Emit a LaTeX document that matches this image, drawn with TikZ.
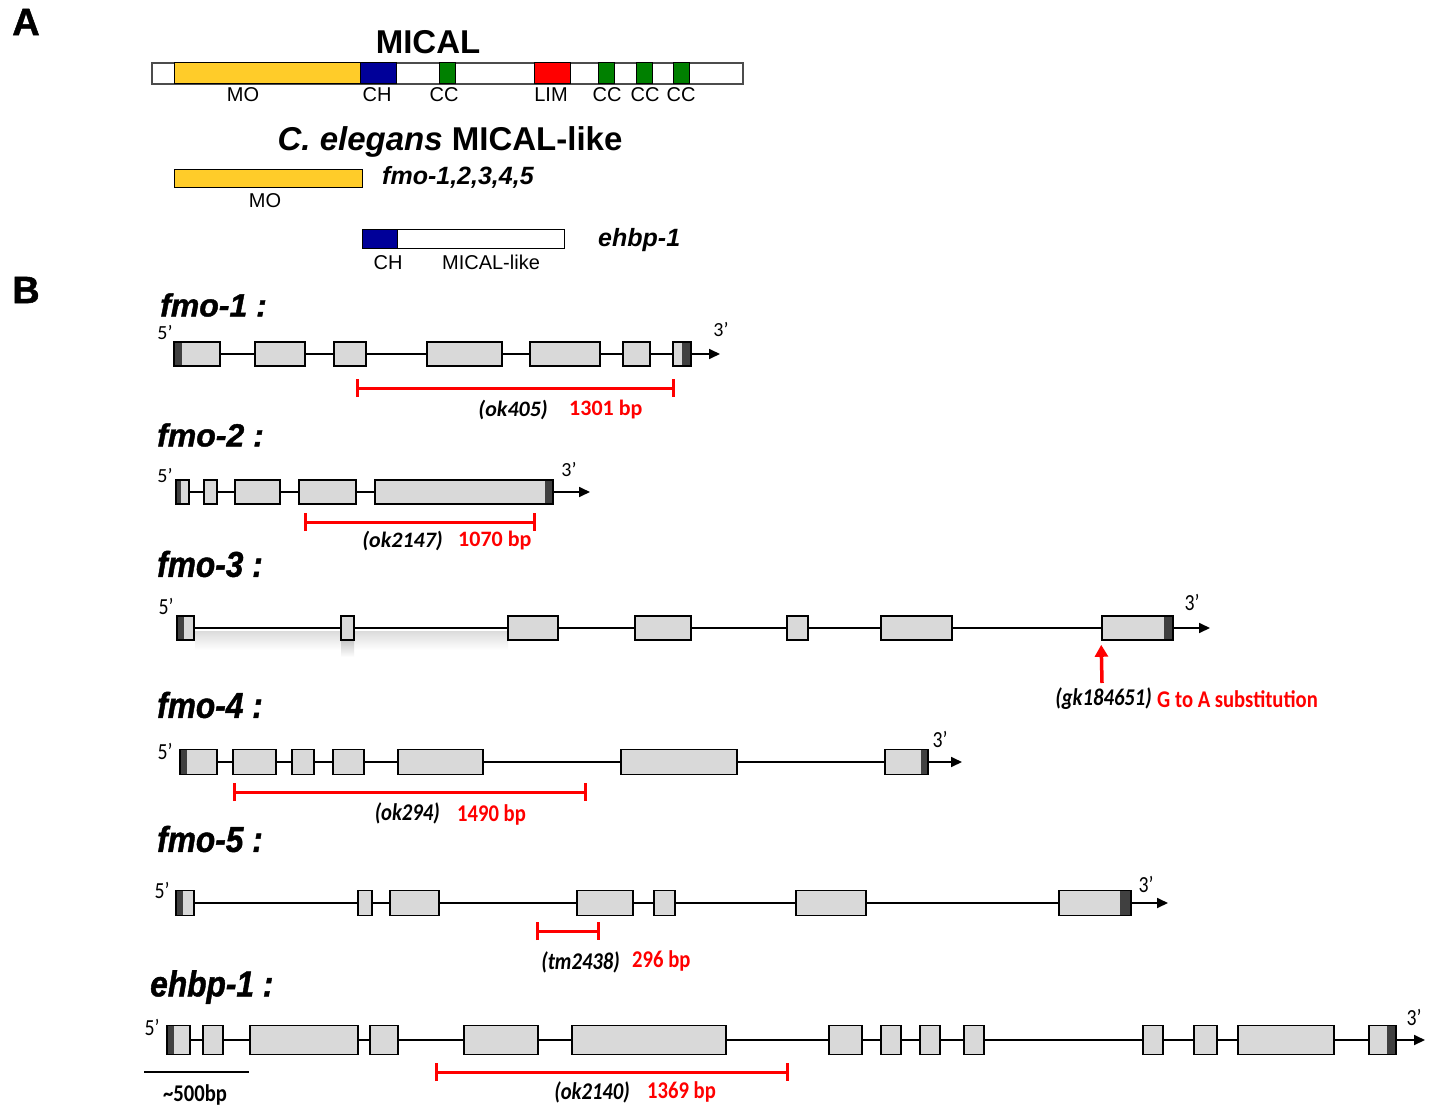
\documentclass[tikz,border=0pt]{standalone}
\usepackage{fontspec}
\setmainfont{Liberation Sans}
\newfontfamily\cfont{Carlito}
\newfontfamily\cfontc[FakeStretch=0.86]{Carlito}
\newfontfamily\heavyfont[FakeBold=1.2]{Liberation Sans}
\newfontfamily\heavyfontc[FakeStretch=0.88,FakeBold=1.2]{Liberation Sans}
\usetikzlibrary{arrows.meta}

\newcommand\fsz[1]{\fontsize{#1}{#1}\selectfont}

\definecolor{moyellow}{HTML}{FFCC29}
\definecolor{chblue}{HTML}{000099}
\definecolor{ccgreen}{HTML}{008000}
\definecolor{limred}{HTML}{FF0000}
\definecolor{exongray}{HTML}{D9D9D9}
\definecolor{utrgray}{HTML}{404040}

\tikzset{
  panel/.style={font=\heavyfont\bfseries\fsz{38}, inner sep=0pt},
  bigtitle/.style={font=\bfseries\fsz{33}, inner sep=0pt},
  subtitle/.style={font=\bfseries\fsz{33}, inner sep=0pt},
  domlab/.style={font=\fsz{20}, inner sep=0pt},
  protlab/.style={font=\bfseries\itshape\fsz{25}, inner sep=0pt, anchor=west},
  dom/.style={draw=black, line width=1pt, inner sep=0pt, minimum height=21pt},
  genetitle/.style={font=\heavyfont\bfseries\itshape\fsz{32}, anchor=west, inner sep=0pt},
  genetitlec/.style={font=\heavyfontc\bfseries\itshape\fsz{36}, anchor=west, inner sep=0pt},
  primelab/.style={font=\cfont\fsz{20}, inner sep=0pt},
  primelabc/.style={font=\cfontc\fsz{23}, inner sep=0pt},
  allele/.style={font=\cfont\bfseries\itshape\fsz{22}, anchor=east, inner sep=0pt},
  allelec/.style={font=\cfontc\bfseries\itshape\fsz{24}, anchor=east, inner sep=0pt},
  dsize/.style={font=\cfont\bfseries\fsz{22}, text=limred, anchor=west, inner sep=0pt},
  dsizec/.style={font=\cfontc\bfseries\fsz{24}, text=limred, anchor=west, inner sep=0pt},
  exon/.style={draw=black, line width=1.6pt, fill=exongray, inner sep=0pt},
  utr/.style 2 args={path picture={
      \fill[utrgray] (path picture bounding box.south west)
        rectangle ([xshift=#1 pt]path picture bounding box.north west);
      \fill[utrgray] ([xshift=-#2 pt]path picture bounding box.south east)
        rectangle (path picture bounding box.north east);}},
  intron/.style={draw=black, line width=1.7pt},
  endtip/.style={-{Triangle[length=11pt,width=10pt]}},
  del/.style={draw=limred, line width=3pt, {Bar[width=18pt]}-{Bar[width=18pt]}},
}

% gene model: #1 name, #2 y of the axis, #3 exon height,
% #4 x of the 3' arrow tip, #5 exons as start/end/left UTR/right UTR
\newcommand\genemodel[5]{%
  \foreach \a/\b/\l/\r [count=\k] in {#5}{
    \node[exon, minimum height=#3 pt, minimum width={(\b-\a)*1pt}, utr={\l}{\r}]
      (#1-\k) at ({(\a+\b)/2},#2) {};
    \xdef\lastexon{\k}
  }
  \foreach \k in {2,...,\lastexon}{
    \pgfmathtruncatemacro\p{\k-1}
    \draw[intron] (#1-\p.east) -- (#1-\k.west);
  }
  \coordinate (#1-tip) at (#4,#2);
  \draw[intron, endtip] (#1-\lastexon.east) -- (#1-tip);
}

\begin{document}
\begin{tikzpicture}[x=1pt, y=-1pt]
\useasboundingbox (0,0) rectangle (1434,1107);
\fill[white] (0,0) rectangle (1434,1107);

% ---------------- Panel A: domain architecture ----------------
\node[panel] (pa) at (26,22) {A};
\node[bigtitle] (mtitle) at (428,42) {MICAL};

\node[draw=black!70, line width=1.2pt, fill=white, inner sep=0pt,
      minimum width=591pt, minimum height=21pt] (mical) at (447.5,73.5) {};
\node[dom, fill=moyellow, minimum width=186pt] (mo)   at (267,73.5) {};
\node[dom, fill=chblue,   minimum width=36pt]  (ch)   at (378,73.5) {};
\node[dom, fill=ccgreen,  minimum width=16pt]  (cc1)  at (447,73.5) {};
\node[dom, fill=limred,   minimum width=36pt]  (lim)  at (552,73.5) {};
\node[dom, fill=ccgreen,  minimum width=16pt]  (cc2)  at (606,73.5) {};
\node[dom, fill=ccgreen,  minimum width=16pt]  (cc3)  at (644,73.5) {};
\node[dom, fill=ccgreen,  minimum width=16pt]  (cc4)  at (681,73.5) {};

\node[domlab] (lmo)  at (243,95) {MO};
\node[domlab] (lch)  at (377,95) {CH};
\node[domlab] (lcc1) at (444,95) {CC};
\node[domlab] (llim) at (551,95) {LIM};
\node[domlab] (lcc2) at (607,95) {CC};
\node[domlab] (lcc3) at (645,95) {CC};
\node[domlab] (lcc4) at (681,95) {CC};

\node[subtitle] (ctitle) at (450,142) {\textit{C. elegans} MICAL-like};

\node[dom, fill=moyellow, minimum width=188pt, minimum height=18pt] (fmobar) at (268,178.5) {};
\node[protlab] (fmolab) at (382,177) {fmo-1,2,3,4,5};
\node[domlab] (fmomo) at (265,201) {MO};

\node[dom, fill=white, minimum width=202pt, minimum height=19pt] (ehbar) at (463,239.5) {};
\node[dom, fill=chblue, minimum width=35pt, minimum height=19pt] (ehch) at (379.5,239.5) {};
\node[protlab] (ehlab) at (598,240) {ehbp-1};
\node[domlab] (ehchl) at (388,263) {CH};
\node[domlab] (ehml) at (491,262) {MICAL-like};

% ---------------- Panel B: gene models ----------------
\node[panel] (pb) at (26,290) {B};

% fmo-1
\node[genetitle] (t1) at (160,305) {fmo-1 :};
\node[primelab] (f1-5l) at (165,333) {5’};
\node[primelab] (f1-3l) at (721,330) {3’};
\genemodel{f1}{354}{24}{720}{174/220/8/0, 255/305/0/0, 334/366/0/0, 427/502/0/0,
  530/600/0/0, 623/650/0/0, 673/691/0/9}
\coordinate (d1a) at (356,388);
\coordinate (d1b) at (675,388);
\draw[del] (d1a) -- (d1b);
\node[allele] (a1) at (548,410) {(ok405)};
\node[dsize] (s1) at (569,410) {1301 bp};

% fmo-2
\node[genetitle] (t2) at (157,435) {fmo-2 :};
\node[primelab] (f2-5l) at (165,476) {5’};
\node[primelab] (f2-3l) at (569,470) {3’};
\genemodel{f2}{492}{24}{590}{176/189/5/0, 204/217/0/0, 235/280/0/0, 299/356/0/0, 375/553/0/8}
\coordinate (d2a) at (304,522);
\coordinate (d2b) at (536,522);
\draw[del] (d2a) -- (d2b);
\node[allele] (a2) at (443,541) {(ok2147)};
\node[dsize] (s2) at (458,541) {1070 bp};

% fmo-3
\node[genetitlec] (t3) at (157,564) {fmo-3 :};
\node[primelabc] (f3-5l) at (166,606) {5’};
\node[primelabc] (f3-3l) at (1192,602) {3’};
\shade[top color=black!14, bottom color=white] (195,631) rectangle (508,650);
\shade[top color=black!22, bottom color=white] (341,640) rectangle (354,657);
\genemodel{f3}{628}{24}{1210}{177/194/7/0, 341/354/0/0, 508/558/0/0, 635/691/0/0,
  787/808/0/0, 881/952/0/0, 1102/1173/0/9}
\coordinate (snp) at (1102,683);
\draw[draw=limred, line width=3.5pt, -{Triangle[length=12pt,width=13pt]}]
  (snp) -- ([yshift=-4pt]f3-7.south west);
\node[allelec] (a3) at (1152,699) {(gk184651)};
\node[dsizec] (s3) at (1157,699) {G to A substitution};

% fmo-4
\node[genetitlec] (t4) at (157,705) {fmo-4 :};
\node[primelabc] (f4-5l) at (165,751) {5’};
\node[primelabc] (f4-3l) at (940,739) {3’};
\genemodel{f4}{762}{25}{962}{180/217/7/0, 233/276/0/0, 292/314/0/0, 333/364/0/0,
  398/483/0/0, 621/737/0/0, 885/928/0/7}
\coordinate (d4a) at (233,792);
\coordinate (d4b) at (587,792);
\draw[del] (d4a) -- (d4b);
\node[allelec] (a4) at (440,813) {(ok294)};
\node[dsizec] (s4) at (457,815) {1490 bp};

% fmo-5
\node[genetitlec] (t5) at (157,839) {fmo-5 :};
\node[primelabc] (f5-5l) at (162,890) {5’};
\node[primelabc] (f5-3l) at (1146,884) {3’};
\genemodel{f5}{903}{25}{1168}{176/194/7/0, 358/372/0/0, 390/439/0/0, 577/633/0/0,
  654/675/0/0, 796/866/0/0, 1059/1131/0/11}
\coordinate (d5a) at (536,931);
\coordinate (d5b) at (600,931);
\draw[del] (d5a) -- (d5b);
\node[allelec] (a5) at (620,962) {(tm2438)};
\node[dsizec] (s5) at (632,961) {296 bp};

% ehbp-1
\node[genetitlec] (t6) at (150,987) {ehbp-1 :};
\node[primelabc] (e-5l) at (152,1027) {5’};
\node[primelabc] (e-3l) at (1414,1017) {3’};
\genemodel{eh}{1040}{29}{1425}{167/190/7/0, 203/223/0/0, 250/358/0/0, 370/398/0/0,
  464/538/0/0, 572/726/0/0, 829/862/0/0, 881/901/0/0, 920/940/0/0, 964/984/0/0,
  1143/1163/0/0, 1194/1217/0/0, 1238/1334/0/0, 1369/1396/0/9}
\coordinate (dea) at (435,1072);
\coordinate (deb) at (789,1072);
\draw[del] (dea) -- (deb);
\node[allelec] (a6) at (630,1092) {(ok2140)};
\node[dsizec] (s6) at (647,1092) {1369 bp};

% scale bar
\coordinate (sba) at (144,1072);
\coordinate (sbb) at (249,1072);
\draw[black, line width=2.6pt] (sba) -- (sbb);
\node[font=\cfontc\bfseries\fsz{24}, inner sep=0pt, anchor=south] (sbl) at (195,1105) {\textasciitilde500bp};
\end{tikzpicture}
\end{document}
